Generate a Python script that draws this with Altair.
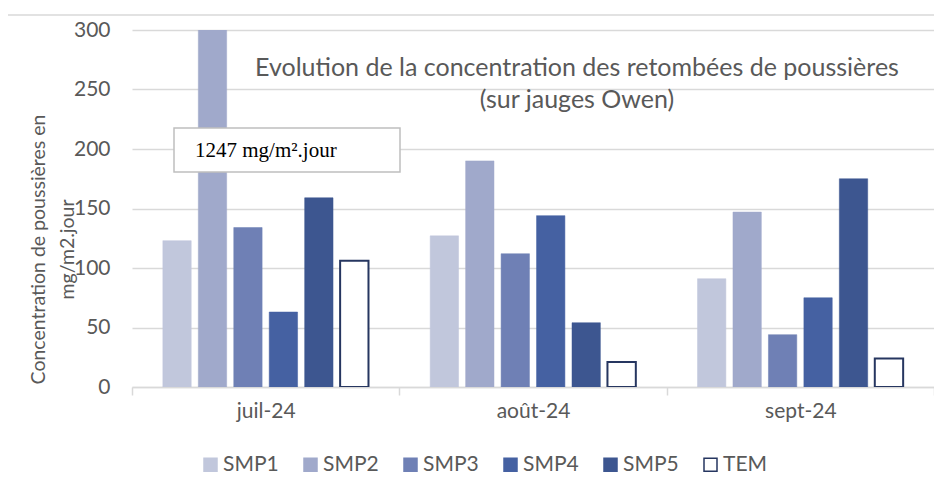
import altair as alt
import pandas as pd

months = ["juil-24", "août-24", "sept-24"]
series = ["SMP1", "SMP2", "SMP3", "SMP4", "SMP5", "TEM"]
smp1 = [123, 127, 91]
smp2 = [1247, 190, 147]
smp3 = [134, 112, 44]
smp4 = [63, 144, 75]
smp5 = [159, 54, 175]
tem = [106, 21, 24]

fills = ["#c1c7dc", "#a0a9cb", "#6f80b5", "#4561a2", "#3d5690", "#ffffff"]
strokes = ["#c1c7dc", "#a0a9cb", "#6f80b5", "#4561a2", "#3d5690", "#263660"]

y_ticks = [0, 50, 100, 150, 200, 250, 300]
title_line1 = "Evolution de la concentration des retombées de poussières"
title_line2 = "(sur jauges Owen)"
y_title = ["Concentration de poussières en", "mg/m2.jour"]
note_text = "1247 mg/m².jour"

rows = []
for s, vals in zip(series, [smp1, smp2, smp3, smp4, smp5, tem]):
    for m, v in zip(months, vals):
        rows.append({"month": m, "series": s, "value": v})
df = pd.DataFrame(rows)

FONT = "Lato"
GREY = "#595959"

one = pd.DataFrame({"a": [0]})

border = alt.Chart(one).mark_rect(
    fillOpacity=0, stroke="#d9d9d9", strokeWidth=1.5
).encode(
    x=alt.value(-125), x2=alt.value(900), y=alt.value(-15), y2=alt.value(520)
)

legend_kw = dict(title=None, orient="none", legendX=68, legendY=424,
                 direction="horizontal", symbolType="square", symbolSize=169,
                 labelFontSize=21, labelFont=FONT, labelColor=GREY,
                 columnPadding=21, labelOffset=2, padding=0,
                 symbolStrokeWidth=1.5)

bars = alt.Chart(df).mark_bar(clip=True).encode(
    x=alt.X("month:N", sort=months,
            scale=alt.Scale(paddingInner=0, paddingOuter=0),
            axis=alt.Axis(title=None, labelAngle=0, labelFontSize=21,
                          labelFont=FONT, labelColor=GREY, tickBand="extent",
                          tickSize=8, tickColor="#d9d9d9", tickWidth=1.5,
                          domainColor="#d9d9d9", domainWidth=1.5,
                          labelPadding=5, grid=False)),
    xOffset=alt.XOffset("series:N", sort=series,
                        scale=alt.Scale(paddingInner=0.2, paddingOuter=0.87)),
    y=alt.Y("value:Q", scale=alt.Scale(domain=[0, 300], nice=False),
            axis=alt.Axis(values=y_ticks, labelFontSize=21, labelFont=FONT,
                          labelColor=GREY, grid=True, gridColor="#d9d9d9",
                          gridWidth=1.5, domain=False, ticks=False, tickSize=0,
                          labelPadding=22, title=y_title, titleFontSize=19.5,
                          titleFont=FONT, titleColor=GREY,
                          titleFontWeight="normal", titleLineHeight=29,
                          titleX=-94, titleY=219, titleAngle=270,
                          titleAlign="center", titleBaseline="middle")),
    fill=alt.Fill("series:N", scale=alt.Scale(domain=series, range=fills),
                  legend=alt.Legend(**legend_kw)),
    stroke=alt.Stroke("series:N", scale=alt.Scale(domain=series, range=strokes),
                      legend=alt.Legend(**legend_kw)),
    strokeWidth=alt.condition(alt.datum.series == "TEM", alt.value(2), alt.value(0.5)),
)

t1 = alt.Chart(pd.DataFrame({"t": [title_line1]})).mark_text(
    font=FONT, fontSize=25, color=GREY, align="center", baseline="middle"
).encode(text="t:N", x=alt.value(445), y=alt.value(38))

t2 = alt.Chart(pd.DataFrame({"t": [title_line2]})).mark_text(
    font=FONT, fontSize=25, color=GREY, align="center", baseline="middle"
).encode(text="t:N", x=alt.value(445), y=alt.value(70))

box = alt.Chart(one).mark_rect(
    fill="white", stroke="#bfbfbf", strokeWidth=1.5
).encode(x=alt.value(42), x2=alt.value(268), y=alt.value(98), y2=alt.value(142))

note = alt.Chart(pd.DataFrame({"t": [note_text]})).mark_text(
    font="Liberation Serif", fontSize=21, color="black", align="left",
    baseline="alphabetic"
).encode(text="t:N", x=alt.value(63), y=alt.value(127))

chart = alt.layer(border, bars, t1, t2, box, note).properties(
    width=802, height=357,
    autosize=alt.AutoSizeParams(type="none"),
    padding={"left": 124, "top": 22, "right": 0, "bottom": 88},
).configure_view(stroke=None)

chart.save("out.html", embed_options={"renderer": "svg", "actions": False})
